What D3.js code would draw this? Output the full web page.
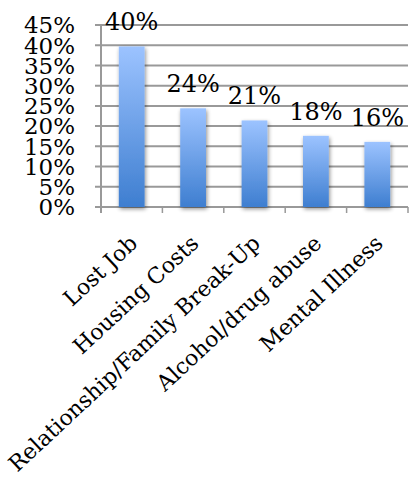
<!DOCTYPE html>
<html>
<head>
<meta charset="utf-8">
<script src="https://cdn.jsdelivr.net/npm/d3@7"></script>
<style>
  body { margin: 0; background: #fff; }
  svg text { font-family: "DejaVu Serif", serif; fill: #000; }
</style>
</head>
<body>
<svg id="chart" width="409" height="485"></svg>
<script>
// chart data
var categories = ["Lost Job", "Housing Costs", "Relationship/Family Break-Up", "Alcohol/drug abuse", "Mental Illness"];
var values = [0.397, 0.244, 0.214, 0.176, 0.161];
var yTicks = [0, 0.05, 0.10, 0.15, 0.20, 0.25, 0.30, 0.35, 0.40, 0.45];

var margin = { top: 25, right: 1, bottom: 278, left: 101 },
    width = 409 - margin.left - margin.right,
    height = 485 - margin.top - margin.bottom;

var svg = d3.select("#chart");
var defs = svg.append("defs");

var grad = defs.append("linearGradient")
    .attr("id", "barGrad")
    .attr("x1", 0).attr("y1", 0).attr("x2", 0).attr("y2", 1);
grad.append("stop").attr("offset", "0%").attr("stop-color", "#9cc3ff");
grad.append("stop").attr("offset", "100%").attr("stop-color", "#3e7ed0");

var shadow = defs.append("filter")
    .attr("id", "shadow")
    .attr("x", "-30%").attr("y", "-10%").attr("width", "160%").attr("height", "130%");
shadow.append("feGaussianBlur").attr("in", "SourceAlpha").attr("stdDeviation", 2).attr("result", "blur");
shadow.append("feOffset").attr("in", "blur").attr("dx", 1).attr("dy", 2).attr("result", "off");
shadow.append("feComponentTransfer").attr("in", "off").attr("result", "soft")
    .append("feFuncA").attr("type", "linear").attr("slope", 0.45);
var merge = shadow.append("feMerge");
merge.append("feMergeNode").attr("in", "soft");
merge.append("feMergeNode").attr("in", "SourceGraphic");

var g = svg.append("g")
    .attr("transform", "translate(" + margin.left + "," + margin.top + ")");

var x = d3.scaleBand().domain(categories).range([0, width]).paddingInner(0.58).paddingOuter(0.29);
var xb = d3.scaleBand().domain(categories).range([0, width]);
var y = d3.scaleLinear().domain([0, 0.45]).range([height, 0]);

// gridlines
g.selectAll(".grid")
    .data(yTicks)
    .enter().append("line")
    .attr("class", "grid")
    .attr("x1", -6).attr("x2", width)
    .attr("y1", function (d) { return y(d); })
    .attr("y2", function (d) { return y(d); })
    .attr("stroke", "#999")
    .attr("stroke-width", 2);

// y axis line
g.append("line")
    .attr("x1", 0).attr("x2", 0)
    .attr("y1", 0).attr("y2", height + 6)
    .attr("stroke", "#999").attr("stroke-width", 2);

// category ticks
g.selectAll(".xtick")
    .data(categories.slice(1).concat(["end"]))
    .enter().append("line")
    .attr("class", "xtick")
    .attr("x1", function (d, i) { return xb.step() * (i + 1); })
    .attr("x2", function (d, i) { return xb.step() * (i + 1); })
    .attr("y1", height).attr("y2", height + 6)
    .attr("stroke", "#999").attr("stroke-width", 1.5);

// y tick labels
g.selectAll(".ylab")
    .data(yTicks)
    .enter().append("text")
    .attr("class", "ylab")
    .attr("x", -26)
    .attr("y", function (d) { return y(d); })
    .attr("dy", "0.36em")
    .attr("text-anchor", "end")
    .style("font-size", "23px")
    .text(d3.format(".0%"));

// bars
g.selectAll(".bar")
    .data(values)
    .enter().append("rect")
    .attr("class", "bar")
    .attr("x", function (d, i) { return x(categories[i]); })
    .attr("width", x.bandwidth())
    .attr("y", function (d) { return y(d); })
    .attr("height", function (d) { return height - y(d); })
    .attr("fill", "url(#barGrad)")
    .attr("filter", "url(#shadow)");

// value labels
g.selectAll(".vlab")
    .data(values)
    .enter().append("text")
    .attr("class", "vlab")
    .attr("x", function (d, i) { return x(categories[i]) + x.bandwidth() / 2; })
    .attr("y", function (d) { return y(d) - 16; })
    .attr("text-anchor", "middle")
    .style("font-size", "24px")
    .text(d3.format(".0%"));

// category labels
g.selectAll(".xlab")
    .data(categories)
    .enter().append("text")
    .attr("class", "xlab")
    .attr("transform", function (d) {
        return "translate(" + (xb(d) + xb.bandwidth() / 2 + 7) + "," + (height + 38) + ") rotate(-43)";
    })
    .attr("text-anchor", "end")
    .style("font-size", "22px")
    .text(function (d) { return d; });
</script>
</body>
</html>
